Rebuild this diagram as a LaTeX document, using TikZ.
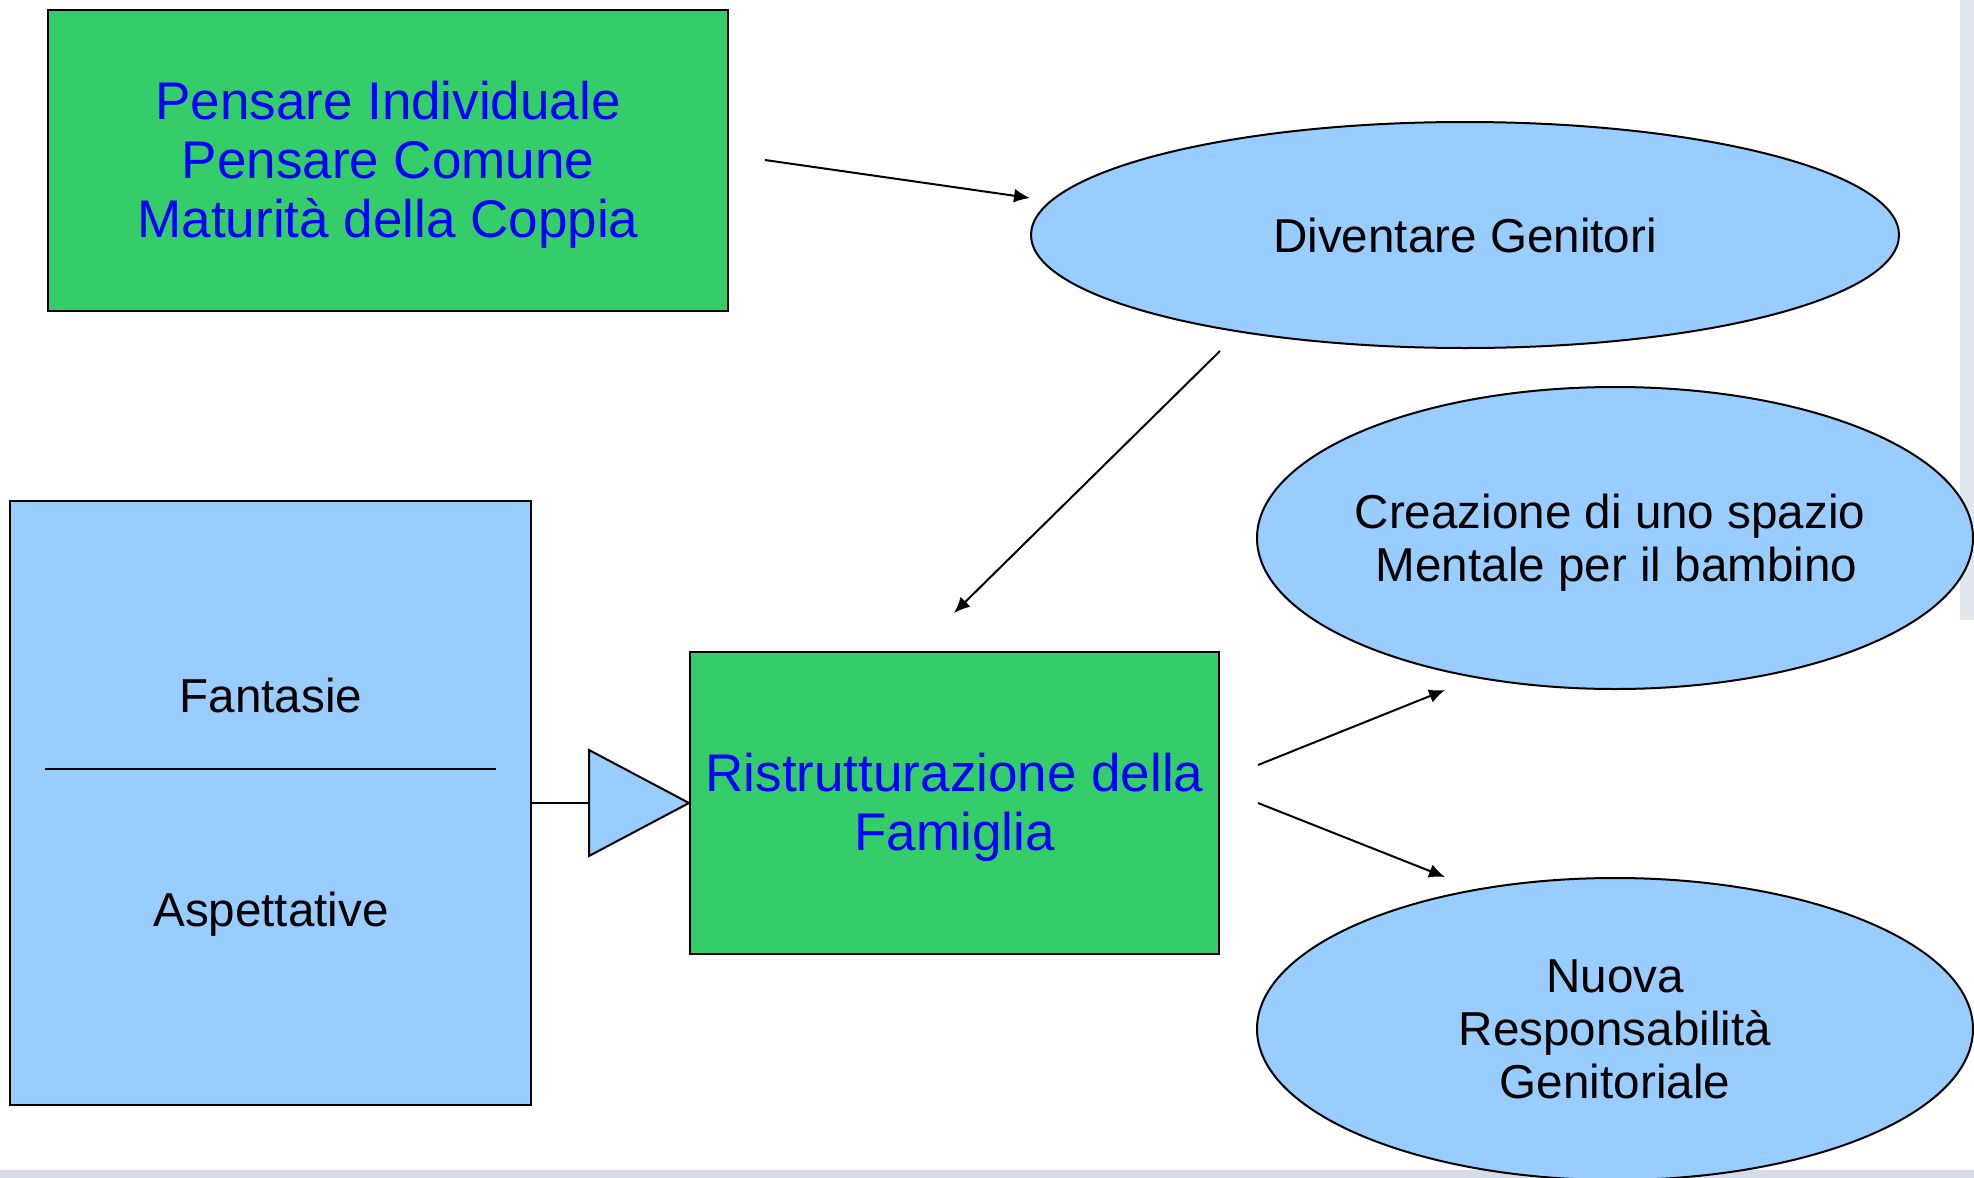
\documentclass[tikz,border=0pt]{standalone}
\usepackage{fontspec}
\setmainfont{Liberation Sans}
\usetikzlibrary{shapes.geometric,arrows.meta}

\definecolor{boxgreen}{RGB}{53,204,106}
\definecolor{boxblue}{RGB}{153,204,255}
\definecolor{txtblue}{RGB}{0,0,255}
\definecolor{smudge}{RGB}{214,220,232}

\begin{document}
\begin{tikzpicture}[x=1pt, y=-1pt, line width=2pt,
		greenbox/.style={draw, fill=boxgreen, rectangle, inner sep=0pt},
		bluetext/.style={inner sep=0pt, align=center, text=txtblue,
			font=\fontsize{53}{59}\selectfont},
		bluebox/.style={draw, fill=boxblue, rectangle, inner sep=0pt},
		oval/.style={draw, fill=boxblue, ellipse, inner sep=0pt, align=center,
			font=\fontsize{47.6}{53}\selectfont},
		plain/.style={inner sep=0pt, align=center, font=\fontsize{47.6}{53}\selectfont},
		arr/.style={-{Latex[length=16pt,width=14pt]}}]
			\useasboundingbox (0,0) rectangle (1974,1178);

			\fill [smudge] (0,1170) rectangle (1974,1178);
			\fill [smudge!70] (1960,0) rectangle (1974,620);

			\node (pensare) [greenbox, minimum width=680pt, minimum height=301pt] at (388,160.5) {};
			\node (pensaretxt) [bluetext] at ([yshift=-4pt]pensare.center)
				{Pensare Individuale\\Pensare Comune\\Maturità della Coppia};
			\node (genitori) [oval, minimum width=868pt, minimum height=226pt] at (1465,235)
				{Diventare Genitori};
			\node (spazio) [oval, minimum width=716pt, minimum height=302pt] at (1615,538) {};
			\node (spaziotxt) [plain] at ([xshift=-5pt, yshift=-5pt]spazio.center)
				{Creazione di uno spazio\\\ Mentale per il bambino};
			\node (resp) [oval, minimum width=716pt, minimum height=302pt] at (1615,1029)
				{Nuova\\Responsabilità\\Genitoriale};

			\node (vissuti) [bluebox, minimum width=521pt, minimum height=604pt] at (270.5,802.5) {};
			\draw (45,769) -- (496,769);
			\node (fantasie) [plain] at (271,695) {Fantasie};
			\node (aspett) [plain] at (271,914) {Aspettative};

			\node (famiglia) [greenbox, minimum width=529pt, minimum height=302pt] at (954.5,803) {};
			\node (famigliatxt) [bluetext] at ([yshift=-4pt]famiglia.center)
				{Ristrutturazione della\\Famiglia};

			\coordinate (tri) at (589,802.5);
			\draw (vissuti.east) -- (tri);
			\draw [fill=boxblue, line join=miter] (589,750) -- (famiglia.west) -- (589,856) -- cycle;

			\coordinate (a1s) at (765,160);
			\coordinate (a1e) at (1030,198);
			\coordinate (a2s) at (1220,351);
			\coordinate (a2e) at (954,613);
			\coordinate (a3s) at (1258,765);
			\coordinate (a3e) at (1445,690);
			\coordinate (a4s) at (1258,803);
			\coordinate (a4e) at (1445,877);

			\draw [arr] (a1s) -- (a1e);
			\draw [arr] (a2s) -- (a2e);
			\draw [arr] (a3s) -- (a3e);
			\draw [arr] (a4s) -- (a4e);
		\end{tikzpicture}
\end{document}
